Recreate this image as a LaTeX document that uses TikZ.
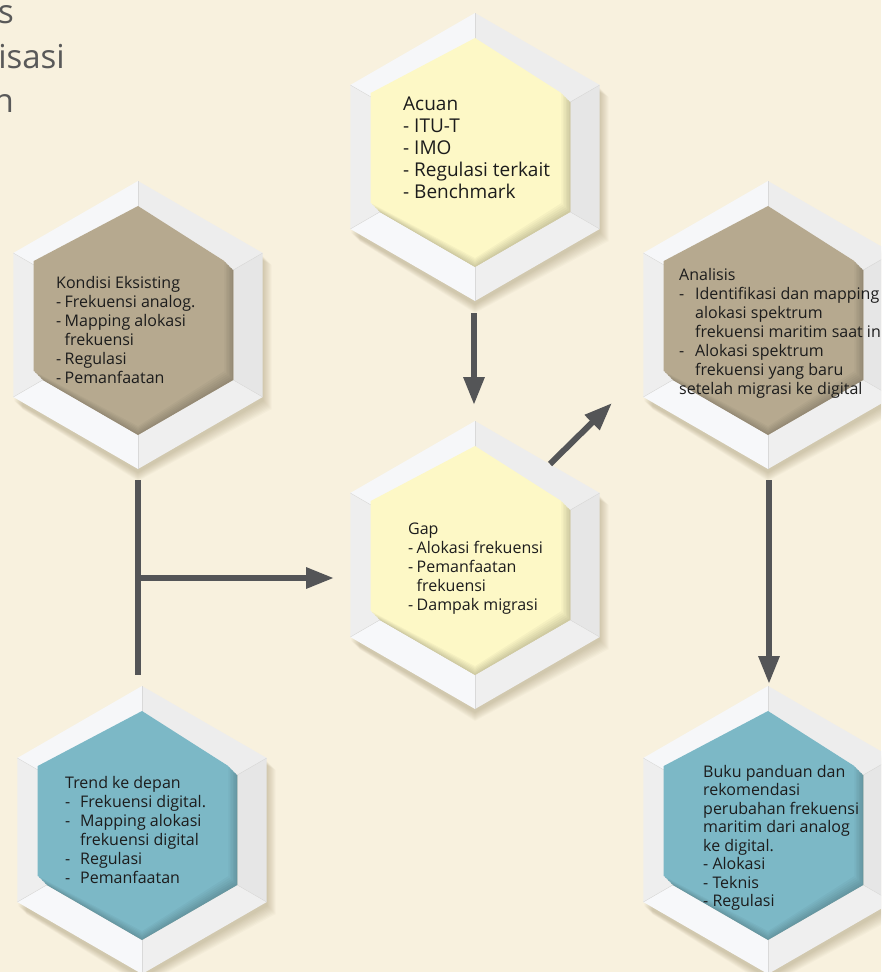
\documentclass[tikz,border=0pt]{standalone}
\usepackage{fontspec}
\setmainfont{Open Sans}
\usetikzlibrary{arrows.meta,calc}
\definecolor{bg}{HTML}{F8F1DE}
\definecolor{shadowc}{HTML}{7A6A40}
\definecolor{fTL}{HTML}{F6F7F9}
\definecolor{fTR}{HTML}{EDEDED}
\definecolor{fR}{HTML}{E6E6E6}
\definecolor{fBR}{HTML}{EFEFEF}
\definecolor{fBL}{HTML}{F7F8FA}
\definecolor{fL}{HTML}{EEEEEE}
\definecolor{yel}{HTML}{FDF8C6}
\definecolor{tan}{HTML}{B6A98F}
\definecolor{teal}{HTML}{7CB8C6}
\definecolor{arr}{HTML}{545557}
\definecolor{txt}{HTML}{1C1C1C}
\definecolor{ttl}{HTML}{595959}
\newcommand\hexpath[3]{({#1},{#2-#3}) -- ({#1+0.866*#3},{#2-0.5*#3}) -- ({#1+0.866*#3},{#2+0.5*#3}) -- ({#1},{#2+#3}) -- ({#1-0.866*#3},{#2+0.5*#3}) -- ({#1-0.866*#3},{#2-0.5*#3}) -- cycle}
\newcommand\hexcell[4]{%
  \foreach \s in {1,...,9} {\fill[shadowc,opacity=0.035] \hexpath{#2}{#3+3}{144+\s};}
  \coordinate (#1-o1) at ({#2},{#3-144});
  \coordinate (#1-o2) at ({#2+124.7},{#3-72});
  \coordinate (#1-o3) at ({#2+124.7},{#3+72});
  \coordinate (#1-o4) at ({#2},{#3+144});
  \coordinate (#1-o5) at ({#2-124.7},{#3+72});
  \coordinate (#1-o6) at ({#2-124.7},{#3-72});
  \coordinate (#1-i1) at ({#2},{#3-110});
  \coordinate (#1-i2) at ({#2+95.3},{#3-55});
  \coordinate (#1-i3) at ({#2+95.3},{#3+55});
  \coordinate (#1-i4) at ({#2},{#3+110});
  \coordinate (#1-i5) at ({#2-95.3},{#3+55});
  \coordinate (#1-i6) at ({#2-95.3},{#3-55});
  \fill[fTR] (#1-o1) -- (#1-o2) -- (#1-i2) -- (#1-i1) -- cycle;
  \fill[fR] (#1-o2) -- (#1-o3) -- (#1-i3) -- (#1-i2) -- cycle;
  \fill[fBR] (#1-o3) -- (#1-o4) -- (#1-i4) -- (#1-i3) -- cycle;
  \fill[fBL] (#1-o4) -- (#1-o5) -- (#1-i5) -- (#1-i4) -- cycle;
  \fill[fL] (#1-o5) -- (#1-o6) -- (#1-i6) -- (#1-i5) -- cycle;
  \fill[fTL] (#1-o6) -- (#1-o1) -- (#1-i1) -- (#1-i6) -- cycle;
  \foreach \a/\b in {o1/i1,o2/i2,o3/i3,o4/i4,o5/i5,o6/i6} {\draw[white!85!black,line width=0.4pt] (#1-\a) -- (#1-\b);}
  \foreach \k [evaluate=\k as \pc using int(82+\k*3)] in {0,...,6} {\fill[#4!\pc!black] \hexpath{#2}{#3}{110-\k*1.5};}
  \coordinate (#1) at (#2,#3);
}
\tikzset{
  hextext/.style={anchor=north west, inner sep=0pt, align=left, text=txt, font=\fontsize{16}{19}\selectfont},
  titletext/.style={anchor=base east, inner sep=0pt, text=ttl, font=\fontsize{33}{45}\selectfont},
  conn/.style={draw=arr, line width=6pt},
  tip/.style={-{Triangle[length=28pt,width=20pt]}}
}
\begin{document}
\begin{tikzpicture}[x=1pt,y=-1pt]
\useasboundingbox (0,0) rectangle (881,972);
\fill[bg] (0,0) rectangle (881,972);
\clip (0,0) rectangle (881,972);

\node[titletext] (t1) at (14,23) {s};
\node[titletext] (t2) at (65,68) {isasi};
\node[titletext] (t3) at (14,112) {n};

\hexcell{acuan}{475}{157}{yel}
\hexcell{kondisi}{138}{325}{tan}
\hexcell{analisis}{768}{325}{tan}
\hexcell{gap}{475}{565}{yel}
\hexcell{trend}{142}{830}{teal}
\hexcell{buku}{768}{830}{teal}

\node[hextext, font=\fontsize{19}{22}\selectfont] (acuanT) at (403,97)
  {Acuan\\- ITU-T\\- IMO\\- Regulasi terkait\\- Benchmark};
\node[hextext] (kondisiT) at (56,276)
  {Kondisi Eksisting\\\makebox[8.5pt][l]{-}Frekuensi analog.\\\makebox[8.5pt][l]{-}Mapping alokasi\\\makebox[8.5pt][l]{}frekuensi\\\makebox[8.5pt][l]{-}Regulasi\\\makebox[8.5pt][l]{-}Pemanfaatan};
\node[hextext] (analisisT) at (679,268)
  {Analisis\\\makebox[16pt][l]{-}Identifikasi dan mapping\\\makebox[16pt][l]{}alokasi spektrum\\\makebox[16pt][l]{}frekuensi maritim saat ini\\\makebox[16pt][l]{-}Alokasi spektrum\\\makebox[16pt][l]{}frekuensi yang baru\\setelah migrasi ke digital};
\node[hextext] (gapT) at (408,523)
  {Gap\\\makebox[8.5pt][l]{-}Alokasi frekuensi\\\makebox[8.5pt][l]{-}Pemanfaatan\\\makebox[8.5pt][l]{}frekuensi\\\makebox[8.5pt][l]{-}Dampak migrasi};
\node[hextext] (trendT) at (65,776)
  {Trend ke depan\\\makebox[15pt][l]{-}Frekuensi digital.\\\makebox[15pt][l]{-}Mapping alokasi\\\makebox[15pt][l]{}frekuensi digital\\\makebox[15pt][l]{-}Regulasi\\\makebox[15pt][l]{-}Pemanfaatan};
\node[hextext, font=\fontsize{16}{18.5}\selectfont] (bukuT) at (703,765)
  {Buku panduan dan\\rekomendasi\\perubahan frekuensi\\maritim dari analog\\ke digital.\\- Alokasi\\- Teknis\\- Regulasi};

% connectors
\draw[conn,tip] ($(acuan)+(-1,156)$) -- ($(gap)+(-1,-160)$);
\draw[conn,tip] ($(gap)+(75,-101)$) -- ($(analisis)+(-156,78)$);
\draw[conn] ($(kondisi)+(0,155)$) -- ($(trend)+(-4,-155)$);
\draw[conn,tip] ($(kondisi)+(0,253)$) -- ($(gap)+(-141,13)$);
\draw[conn,tip] ($(analisis)+(1,155)$) -- ($(buku)+(1,-146)$);
\end{tikzpicture}
\end{document}
